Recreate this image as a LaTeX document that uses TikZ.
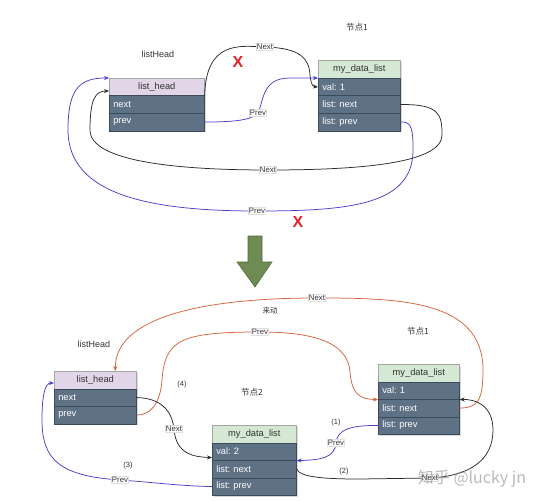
\documentclass[tikz,border=0pt]{standalone}
\usepackage{fontspec}
\setmainfont{Liberation Sans}
\newfontfamily\cjk{Noto Sans CJK SC}
\usetikzlibrary{calc,arrows.meta,shadows}
\frenchspacing
\definecolor{pinkc}{HTML}{E1D5E7}
\definecolor{greenc}{HTML}{D5E8D4}
\definecolor{rowc}{HTML}{5E7185}
\definecolor{rowd}{HTML}{3A4B5C}
\definecolor{bluec}{HTML}{4B3FC8}
\definecolor{orangec}{HTML}{D4623C}
\definecolor{blackc}{HTML}{2A2A2A}
\definecolor{redx}{HTML}{E0222A}
\definecolor{arrg}{HTML}{6D8B52}
\definecolor{arrgd}{HTML}{4E6A3A}
\tikzset{
  base/.style={draw, minimum height=17.5pt, inner ysep=0pt, inner xsep=4pt, font=\fontsize{9.3}{10}\selectfont, anchor=north west, line width=0.6pt,
    drop shadow={shadow xshift=1.2pt, shadow yshift=-1.2pt, opacity=.3}},
  hdrP/.style={base, fill=pinkc, draw=gray!70, text=black!80},
  hdrG/.style={base, fill=greenc, draw=gray!70, text=black!80},
  rowbox/.style={base, fill=rowc, draw=rowd, text=white, align=left},
  lbl/.style={fill=white, draw=gray!25, inner sep=0.8pt, font=\fontsize{7.8}{8}\selectfont, text=black!80},
  txt/.style={font=\fontsize{9}{10}\selectfont, text=black!80},
  ctxt/.style={font=\cjk\fontsize{8.5}{10}\selectfont, text=black!80},
  con/.style={line width=0.75pt, -{Stealth[length=5pt,width=4pt]}},
  xmark/.style={font=\fontsize{16}{16}\selectfont\bfseries, text=redx}
}
\begin{document}
\begin{tikzpicture}[x=1pt,y=-1pt]
\useasboundingbox (0,0) rectangle (540,500);

% ---------- top part ----------
\node[ctxt] (t1) at (357,27) {节点1};
\node[txt] (t2) at (158,54) {listHead};

\node[hdrP, minimum width=95pt] (LHh) at (109,78) {list\_head};
\node[rowbox, text width=87pt] (LHn) at (109,95.5) {next};
\node[rowbox, text width=87pt] (LHp) at (109,113) {prev};

\node[hdrG, minimum width=82pt] (Mh) at (318,60.5) {my\_data\_list};
\node[rowbox, text width=74pt] (MV) at (318,78) {val: 1};
\node[rowbox, text width=74pt] (MN) at (318,95.5) {list: next};
\node[rowbox, text width=74pt] (MP) at (318,113) {list: prev};

% top Next (black) list_head -> val
\draw[con, blackc] (LHh.south east) .. controls (206,40) and (240,46) .. (265,47) node[lbl] {Next}
  .. controls (300,48) and (309,58) .. (310,75) .. controls (311,85) and (313,86.5) .. (MV.west);
% top Prev (blue) list_head.prev -> my_data_list
\draw[con, bluec] (LHp.east) .. controls (235,122) and (252,120) .. (258,113) node[lbl] {Prev}
  .. controls (264,100) and (262,78) .. (290,78) -- (MV.north west);
% big Next (black)
\draw[con, blackc] (MN.east) .. controls (440,104) and (442,115) .. (442,135)
  .. controls (442,165) and (350,170) .. (268,170) node[lbl] {Next}
  .. controls (180,170) and (90,162) .. (90,130) .. controls (90,100) and (95,91) .. ($(LHh.west)+(0,4)$);
% big Prev (blue)
\draw[con, bluec] (MP.east) .. controls (412,121) and (413,130) .. (413,150)
  .. controls (413,205) and (350,211) .. (257,211) node[lbl] {Prev}
  .. controls (150,211) and (68,195) .. (68,130) .. controls (68,88) and (80,78) .. (LHh.north west);

\node[xmark] (x1) at (238,62) {X};
\node[xmark] (x2) at (298,222) {X};

% down arrow
\draw[fill=arrg, draw=arrgd, line width=0.6pt] (248,236) -- (262,236) -- (262,262) -- (272,262) -- (255,287) -- (237,262) -- (248,262) -- cycle;

% ---------- bottom part ----------
\node[txt] (b1) at (94,344) {listHead};
\node[ctxt] (b2) at (418,331) {节点1};
\node[ctxt] (b3) at (252,392) {节点2};
\node[ctxt, font=\cjk\fontsize{7.5}{9}\selectfont] (b4) at (270,311) {来动};
\node[txt, font=\fontsize{7.5}{9}\selectfont] (n4) at (182,385) {(4)};
\node[txt, font=\fontsize{7.5}{9}\selectfont] (n3) at (128,466) {(3)};
\node[txt, font=\fontsize{7.5}{9}\selectfont] (n1) at (336,423) {(1)};
\node[txt, font=\fontsize{7.5}{9}\selectfont] (n2) at (344,472) {(2)};

\node[hdrP, minimum width=82pt] (Bh) at (54,371) {list\_head};
\node[rowbox, text width=74pt] (Bn) at (54,388.5) {next};
\node[rowbox, text width=74pt] (Bp) at (54,406) {prev};

\node[hdrG, minimum width=84pt] (Ch) at (212,425) {my\_data\_list};
\node[rowbox, text width=76pt] (CV) at (212,442.5) {val: 2};
\node[rowbox, text width=76pt] (CN) at (212,460) {list: next};
\node[rowbox, text width=76pt] (CP) at (212,477.5) {list: prev};

\node[hdrG, minimum width=81pt] (Dh) at (378,364) {my\_data\_list};
\node[rowbox, text width=73pt] (DV) at (378,381.5) {val: 1};
\node[rowbox, text width=73pt] (DN) at (378,399) {list: next};
\node[rowbox, text width=73pt] (DP) at (378,416.5) {list: prev};

% orange Next: node1.next -> list_head
\draw[con, orangec] (DN.east) .. controls (478,408) and (483,400) .. (483,370)
  .. controls (483,300) and (400,298) .. (317,298) node[lbl] {Next}
  .. controls (200,298) and (115,318) .. ($(Bh.north)+(20,0)$);
% orange Prev: list_head.prev -> node1
\draw[con, orangec] (Bp.east) .. controls (150,415) and (160,405) .. (162,380)
  .. controls (165,340) and (180,332) .. (260,332) node[lbl] {Prev}
  .. controls (320,332) and (348,345) .. (350,372) .. controls (352,395) and (360,399) .. (DV.south west);
% black Next: list_head.next -> node2
\draw[con, blackc] (Bn.east) .. controls (160,398) and (172,410) .. (174,429) node[lbl] {Next}
  .. controls (176,455) and (195,457) .. ($(CV.west)+(0,6)$);
% blue Prev (3): node2.prev -> list_head
\draw[con, bluec] (CP.west) .. controls (180,486) and (150,482) .. (120,480) node[lbl] {Prev}
  .. controls (60,476) and (42,460) .. (42,420) .. controls (42,395) and (45,383) .. ($(Bh.west)+(0,3)$);
% blue Prev (1): node1.prev -> node2
\draw[con, bluec] (DP.west) .. controls (350,425) and (337,430) .. (336,443) node[lbl] {Prev}
  .. controls (335,458) and (320,460) .. (CV.south east);
% black Next (2): node2.next -> node1
\draw[con, blackc] (CN.east) .. controls (300,478) and (330,479) .. (360,479) -- (430,478) node[lbl] {Next}
  .. controls (470,476) and (493,460) .. (493,430) .. controls (493,405) and (475,399) .. (DV.south east);

% watermark
\node[font=\cjk\fontsize{16}{16}\selectfont, text=gray, opacity=.55] (wm) at (472,479) {知乎 @lucky jn};
\end{tikzpicture}
\end{document}
